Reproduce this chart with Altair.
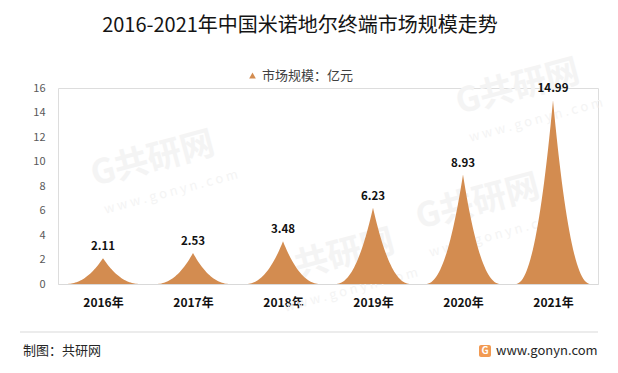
import altair as alt
import pandas as pd

# ---- data ----
years = ["2016年", "2017年", "2018年", "2019年", "2020年", "2021年"]
values = [2.11, 2.53, 3.48, 6.23, 8.93, 14.99]
value_labels = ["2.11", "2.53", "3.48", "6.23", "8.93", "14.99"]
series_name = "市场规模：亿元"
y_ticks = [0, 2, 4, 6, 8, 10, 12, 14, 16]
title_text = "2016-2021年中国米诺地尔终端市场规模走势"
source_text = "制图：共研网"
site_text = "www.gonyn.com"
watermark_text = "G共研网"
watermark_site = "w w w . g o n y n . c o m"

COLOR = "#D38C50"
FONT = "Noto Sans CJK SC"
W, H = 540, 196

df = pd.DataFrame({"year": years, "value": values, "label": value_labels,
                   "series": [series_name] * len(years)})
base = alt.Chart(df)
one = alt.Data(values=[{}])

xscale = alt.Scale(domain=[-0.5, len(years) - 0.5], nice=False, zero=False)
yscale = alt.Scale(domain=[y_ticks[0], y_ticks[-1]], nice=False)
label_expr = "[" + ",".join(f"'{y}'" for y in years) + "][datum.value]"

x_axis = alt.Axis(values=list(range(len(years))), labelExpr=label_expr,
                  title=None, ticks=False, grid=False,
                  domainColor="#D9D9D9", domainWidth=1,
                  labelFont=FONT, labelFontWeight="bold",
                  labelFontSize=12, labelColor="#111111",
                  labelPadding=13, labelOverlap=False)
y_axis = alt.Axis(values=y_ticks, title=None, grid=False, domain=False,
                  ticks=False, labelColor="#595959", labelFontSize=11,
                  labelFont=FONT, labelPadding=13, labelOverlap=False)

peaks = (
    base.transform_window(idx="row_number()")
    .transform_calculate(k="sequence(0, 61)")
    .transform_flatten(["k"])
    .transform_calculate(t="datum.k / 30 - 1")
    .transform_calculate(px="datum.idx - 1 + 0.42 * datum.t")
    .transform_calculate(py="datum.value * pow(1 - abs(datum.t), 2.2)")
    .mark_area(interpolate="linear")
    .encode(
        x=alt.X("px:Q", scale=xscale, axis=x_axis),
        y=alt.Y("py:Q", scale=yscale, stack=None, axis=y_axis),
        detail="year:N",
        color=alt.Color("series:N", scale=alt.Scale(domain=[series_name], range=[COLOR]),
                        legend=alt.Legend(orient="none", legendX=188, legendY=-19,
                                          title=None, symbolType="triangle-up",
                                          symbolSize=45, labelFont=FONT,
                                          labelFontSize=13, labelColor="#404040",
                                          symbolOffset=0, labelOffset=3)),
    )
)

labels = (
    base.transform_window(idx="row_number()")
    .transform_calculate(px="datum.idx - 1")
    .mark_text(baseline="bottom", dy=-6, font=FONT, fontWeight="bold",
               fontSize=11.5, color="#111111")
    .encode(x=alt.X("px:Q", scale=xscale, axis=x_axis),
            y=alt.Y("value:Q", scale=yscale, axis=y_axis),
            text="label:N")
)

def wm(x, y):
    a = alt.Chart(one).mark_text(text=watermark_text, font=FONT, fontWeight="bold",
                                 fontSize=34, color="#F4F4F4", angle=345,
                                 align="center", baseline="middle").encode(
        x=alt.value(x), y=alt.value(y))
    b = alt.Chart(one).mark_text(text=watermark_site, font=FONT,
                                 fontSize=13, color="#F4F4F4", angle=345,
                                 align="center", baseline="middle").encode(
        x=alt.value(x + 18), y=alt.value(y + 32))
    return a + b

watermarks = wm(95, 72) + wm(275, 170) + wm(420, 115) + wm(460, 0)

border = alt.Chart(one).mark_rect(fillOpacity=0, stroke="#BFBFBF", strokeWidth=1).encode(
    x=alt.value(-51), x2=alt.value(553), y=alt.value(-84), y2=alt.value(278))
sep = alt.Chart(one).mark_rule(color="#D9D9D9", strokeWidth=1).encode(
    x=alt.value(-38), x2=alt.value(540), y=alt.value(244))
title = alt.Chart(one).mark_text(text=title_text, font=FONT, fontSize=20,
                                 color="#141414", align="center",
                                 baseline="middle").encode(
    x=alt.value(242), y=alt.value(-62))
source = alt.Chart(one).mark_text(text=source_text, font=FONT, fontSize=13,
                                  color="#262626", align="left",
                                  baseline="middle").encode(
    x=alt.value(-35), y=alt.value(263))
site = alt.Chart(one).mark_text(text=site_text, font=FONT, fontSize=13,
                                color="#262626", align="left",
                                baseline="middle").encode(
    x=alt.value(438), y=alt.value(263))
logo = alt.Chart(one).mark_rect(color="#F29A52", cornerRadius=2).encode(
    x=alt.value(421), x2=alt.value(433), y=alt.value(257), y2=alt.value(269))
logo_g = alt.Chart(one).mark_text(text="G", font=FONT, fontWeight="bold", fontSize=10,
                                  color="white", align="center",
                                  baseline="middle").encode(
    x=alt.value(427), y=alt.value(263))

chart = alt.layer(
    watermarks, border, sep, title, source, site, logo, logo_g, peaks, labels
).properties(
    width=W, height=H,
    autosize=alt.AutoSizeParams(type="none"),
    padding={"left": 50, "top": 80, "right": 12, "bottom": 81},
).configure_view(stroke=None).configure(background="white")

chart.save("out.html", embed_options={"renderer": "svg", "actions": False})
